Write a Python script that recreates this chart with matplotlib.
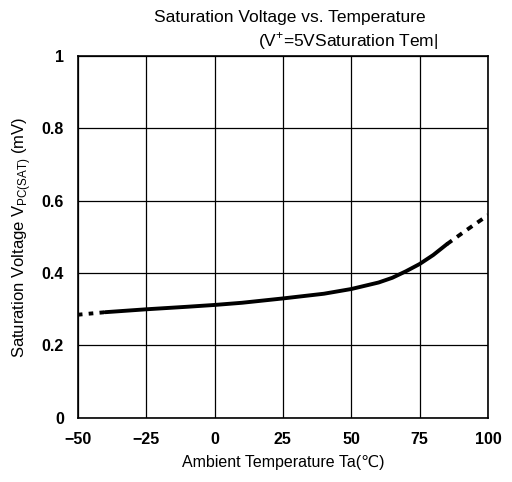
import matplotlib
matplotlib.use("Agg")
import matplotlib.pyplot as plt

plt.rcParams['font.family'] = ['Liberation Sans', 'DejaVu Sans']

# data
solid_t = [-40, -25, -10, 0, 10, 25, 40, 50, 60, 65, 70, 75, 80, 85]
solid_v = [0.292, 0.300, 0.307, 0.312, 0.318, 0.330, 0.343, 0.356, 0.374, 0.387, 0.405, 0.425, 0.450, 0.480]
dash_lo_t = [-50, -40]
dash_lo_v = [0.285, 0.292]
dash_hi_t = [85, 92, 100]
dash_hi_v = [0.480, 0.518, 0.560]
xticks = [-50, -25, 0, 25, 50, 75, 100]
yticks = [0, 0.2, 0.4, 0.6, 0.8, 1]
ytick_labels = ['0', '0.2', '0.4', '0.6', '0.8', '1']

fig = plt.figure(figsize=(5.12, 4.82), dpi=100)
ax = fig.add_axes([0.152, 0.133, 0.801, 0.751])
ax.plot(solid_t, solid_v, color='black', lw=2.8, solid_capstyle='round')
ax.plot(dash_lo_t, dash_lo_v, color='black', lw=2.8, ls=(0, (1.2, 1.6)))
ax.plot(dash_hi_t, dash_hi_v, color='black', lw=2.8, ls=(0, (1.6, 1.6)))
ax.set_xlim(-50, 100)
ax.set_ylim(0, 1)
ax.set_xticks(xticks)
ax.set_xticklabels(['\u221250', '\u221225', '0', '25', '50', '75', '100'])
ax.set_yticks(yticks)
ax.set_yticklabels(ytick_labels)
ax.grid(True, color='black', lw=0.9)
ax.tick_params(length=0, labelsize=11.5, pad=10)
for lab in ax.get_xticklabels() + ax.get_yticklabels():
    lab.set_fontweight('bold')
for s in ax.spines.values():
    s.set_linewidth(1.2)
ax.set_xlabel('Ambient Temperature Ta(\u2103)', fontsize=11.5, labelpad=6)
ax.set_ylabel('Saturation Voltage V$_{\\mathregular{PC(SAT)}}$ (mV)', fontsize=12, labelpad=6)
fig.text(0.566, 0.955, 'Saturation Voltage vs. Temperature', ha='center', fontsize=12.5)
fig.text(0.503, 0.903, '(V$^{\\mathregular{+}}$=5VSaturation Tem|', ha='left', fontsize=12.5)
fig.savefig('out.png', dpi=100)
